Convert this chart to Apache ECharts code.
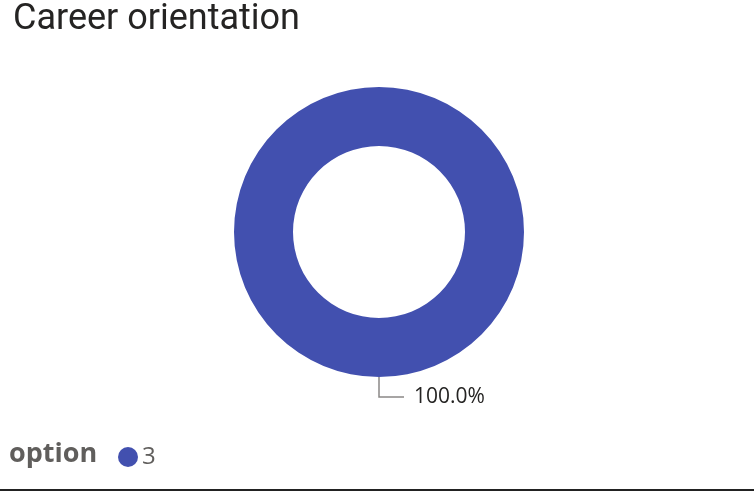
<!DOCTYPE html>
<html><head><meta charset="utf-8">
<script src="https://cdn.jsdelivr.net/npm/echarts@6/dist/echarts.min.js"></script>
<style>html,body{margin:0;padding:0;background:#fff}#c{width:754px;height:491px;border-bottom:2px solid #222;box-sizing:border-box}</style>
</head><body><div id="c"></div>
<script>
const titleText = 'Career orientation';
const legendTitle = 'option';
const categories = ['3'];
const values = [1];

const total = values.reduce((a, b) => a + b, 0);
const chart = echarts.init(document.getElementById('c'), null, {renderer: 'canvas'});
chart.setOption({
  animation: false,
  title: {text: titleText, left: 8, top: -3,
    textStyle: {fontFamily: 'Roboto', fontWeight: 'normal', fontSize: 36, color: '#252423'}},
  graphic: [{type: 'text', left: 9, top: 441,
    style: {text: legendTitle, fontFamily: 'Open Sans', fontWeight: 'bold', fontSize: 27, fill: '#605E5C'}}],
  legend: {left: 113, top: 440, icon: 'circle', itemWidth: 20, itemHeight: 20, itemGap: 10,
    textStyle: {fontFamily: 'Open Sans', fontSize: 24, color: '#605E5C', padding: [0,0,0,-1]},
    data: categories},
  series: [{
    type: 'pie', center: [379, 232], radius: [86, 145],
    itemStyle: {color: '#4250AF'},
    emphasis: {disabled: true},
    label: {show: true, position: 'outside', distanceToLabelLine: 10,
      formatter: p => (p.value / total * 100).toFixed(1) + '%',
      fontFamily: 'Open Sans', fontSize: 21, color: '#252423'},
    labelLine: {show: true, length: 20, length2: 25, smooth: false,
      lineStyle: {color: '#8a8886', width: 1.5}},
    data: categories.map((c, i) => ({name: c, value: values[i]}))
  }]
});
</script></body></html>
